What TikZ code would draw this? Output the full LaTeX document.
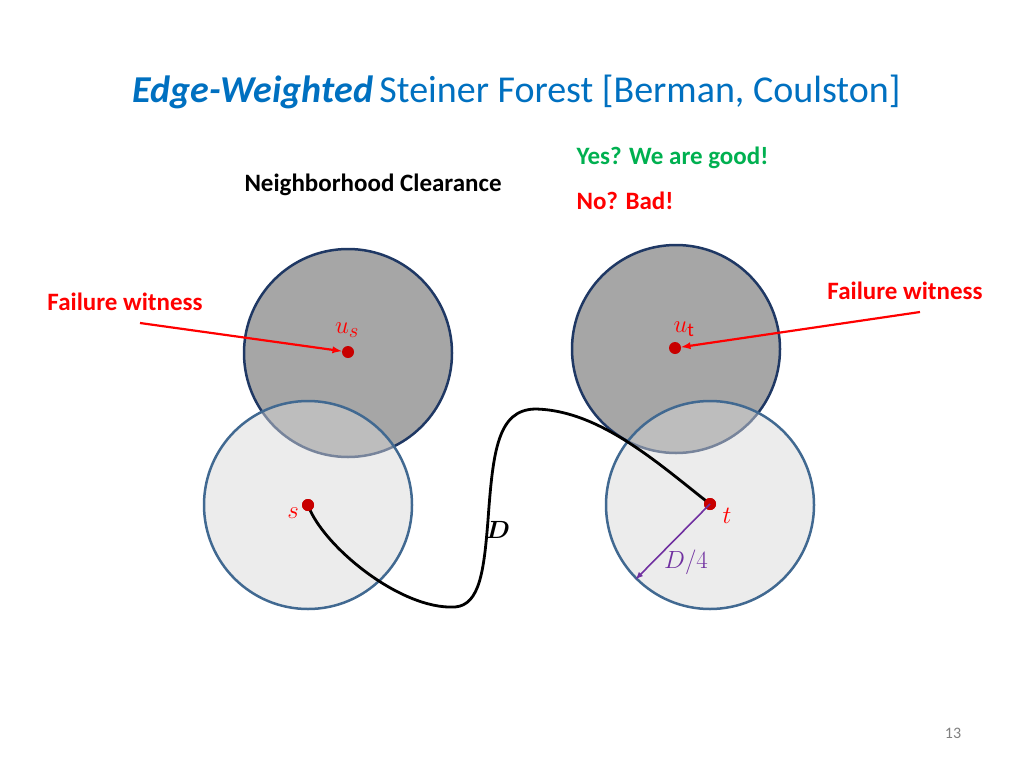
\documentclass[tikz,border=0pt]{standalone}
\usepackage{fontspec}
\setmainfont{Carlito}
\usepackage{amsmath,amssymb}
\usepackage{tikz}
\usetikzlibrary{arrows}
\definecolor{titleblue}{RGB}{0,112,192}
\definecolor{darkrim}{RGB}{31,56,100}
\definecolor{lightrim}{RGB}{65,105,145}
\definecolor{darkdisk}{RGB}{166,166,166}
\definecolor{lightdisk}{RGB}{216,216,216}
\definecolor{dotred}{RGB}{200,0,0}
\definecolor{goodgreen}{RGB}{0,176,80}
\definecolor{radpurple}{RGB}{112,48,160}

\begin{document}
\begin{tikzpicture}[x=1pt, y=-1pt,
    ball/.style = {circle, draw=darkrim, line width=2.5pt, fill=darkdisk, minimum size=208pt, inner sep=0pt},
    nbhd/.style = {circle, draw=lightrim, line width=2.5pt, fill=lightdisk, fill opacity=0.48, draw opacity=1, minimum size=208pt, inner sep=0pt},
    vtx/.style = {circle, fill=dotred, minimum size=12pt, inner sep=0pt},
    lab/.style = {text=red, font=\fontsize{28}{32}\selectfont},
    note/.style = {font=\fontsize{25}{30}\selectfont\bfseries}]
    \useasboundingbox (0, 0) rectangle (1024, 768);
    \node [anchor=base west, text=titleblue, font=\fontsize{38}{46}\selectfont] (title) at (129, 102)
        {{\bfseries\itshape Edge-Weighted}\,Steiner Forest [Berman, Coulston]};
    \node [note] (clear) at (373, 185) {Neighborhood Clearance};
    \node [note, text=goodgreen, anchor=west] (yes) at (573, 158) {Yes? We are good!};
    \node [note, text=red, anchor=west] (no) at (573, 201) {No? Bad!};
    \node [note, text=red] (fwl) at (125, 302) {Failure witness};
    \node [note, text=red] (fwr) at (905, 291) {Failure witness};
    % balls and neighbourhoods
    \node [ball] (usdisk) at (348, 353) {};
    \node [ball] (utdisk) at (676, 349) {};
    \node [nbhd] (sdisk) at (308, 505) {};
    \node [nbhd] (tdisk) at (710, 505) {};
    % the path of length D
    \node [vtx] (s) at (308, 505) {};
    \node [vtx] (t) at (710, 504) {};
    \node [vtx] (us) at (348, 352) {};
    \node [vtx] (ut) at (675, 348) {};
    \draw [line width=2.8pt, line cap=round] (s.center) .. controls (322, 545) and (400, 610) .. (455, 607)
        .. controls (480, 605) and (484, 570) .. (488, 520)
        .. controls (493, 450) and (498, 410) .. (535, 409)
        .. controls (600, 410) and (660, 465) .. (t.center);
    \node [vtx] at (s) {};
    \node [vtx] at (t) {};
    \node [font=\fontsize{25}{28}\selectfont] (dlab) at (498, 530) {$\boldsymbol{D}$};
    \draw [-latex, radpurple, line width=1.6pt] (t.center) -- (tdisk.225);
    \node [text=radpurple, font=\fontsize{25}{28}\selectfont] (dq) at (686, 562) {$D/4$};
    % witnesses
    \coordinate (fwlend) at (140, 323);
    \coordinate (fwrend) at (920, 312);
    \draw [-latex, red, line width=2.2pt] (fwlend) -- (us);
    \draw [-latex, red, line width=2.2pt] (fwrend) -- (ut);
    \node [lab] (uslab) at (347, 330) {$u_s$};
    \node [lab] (utlab) at (684, 329) {$u_{\mathrm{t}}$};
    \node [lab] (slab) at (293, 513) {$s$};
    \node [lab] (tlab) at (727, 516) {$t$};
    \node [text=gray, font=\fontsize{16}{18}\selectfont] (page) at (953, 733) {13};
\end{tikzpicture}
\end{document}
